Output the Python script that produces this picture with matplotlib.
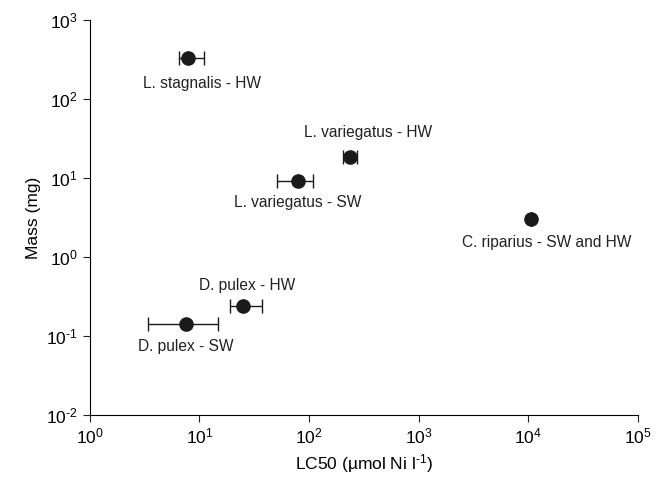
import numpy as np
import matplotlib
matplotlib.use('Agg')
import matplotlib.pyplot as plt

# data (LC50 in umol Ni/l, mass in mg)
especes = ['L. stagnalis - HW', 'L. variegatus - HW', 'L. variegatus - SW',
           'C. riparius - SW and HW', 'D. pulex - HW', 'D. pulex - SW']
lc50 = [7.9, 235, 80, 10700, 25, 7.5]
lc50_bas = [6.5, 205, 51, 10700, 19, 3.4]
lc50_haut = [11.1, 275, 108, 10700, 37, 14.8]
masse = [330, 18.5, 9.2, 3.0, 0.24, 0.142]
# decalage des etiquettes (pixels)
decalage = [(14, -25), (18, 24), (-1, -22), (15, -23), (4, 20), (0, -23)]

plt.rcParams['font.family'] = ['Liberation Sans', 'DejaVu Sans']
plt.rcParams['mathtext.fontset'] = 'custom'
plt.rcParams['mathtext.rm'] = 'Liberation Sans'
plt.rcParams['mathtext.it'] = 'Liberation Sans:italic'

def puissance(v, pos):
    e = int(round(np.log10(v)))
    return '$10^{\\text{%d}}$' % e

fig = plt.figure(figsize=(6.65, 4.88), dpi=100)
ax = fig.add_axes([0.135, 0.15, 0.824, 0.809])

x = np.array(lc50)
err = [x - np.array(lc50_bas), np.array(lc50_haut) - x]
ax.errorbar(x, masse, xerr=err, fmt='o', color='#1a1a1a', ms=9.5,
            ecolor='#1a1a1a', elinewidth=1, capsize=5, capthick=1)

for nom, xi, yi, d in zip(especes, lc50, masse, decalage):
    ax.annotate(nom, (xi, yi), xytext=d, textcoords='offset pixels',
                ha='center', va='center', fontsize=11.2, color='#222222')

ax.set_xscale('log')
ax.set_yscale('log')
ax.set_xlim(1, 1e5)
ax.set_ylim(1e-2, 1e3)
ax.xaxis.set_minor_locator(matplotlib.ticker.NullLocator())
ax.yaxis.set_minor_locator(matplotlib.ticker.NullLocator())
ax.xaxis.set_major_formatter(matplotlib.ticker.FuncFormatter(puissance))
ax.yaxis.set_major_formatter(matplotlib.ticker.FuncFormatter(puissance))
ax.spines['top'].set_visible(False)
ax.spines['right'].set_visible(False)
ax.tick_params(direction='out', length=5, labelsize=12.5, color='#222222')
ax.set_xlabel('LC50 (\u00b5mol Ni l$^{\\text{-1}}$)', fontsize=12.5)
ax.set_ylabel('Mass (mg)', fontsize=12.5)

fig.savefig('out.png', dpi=100)
